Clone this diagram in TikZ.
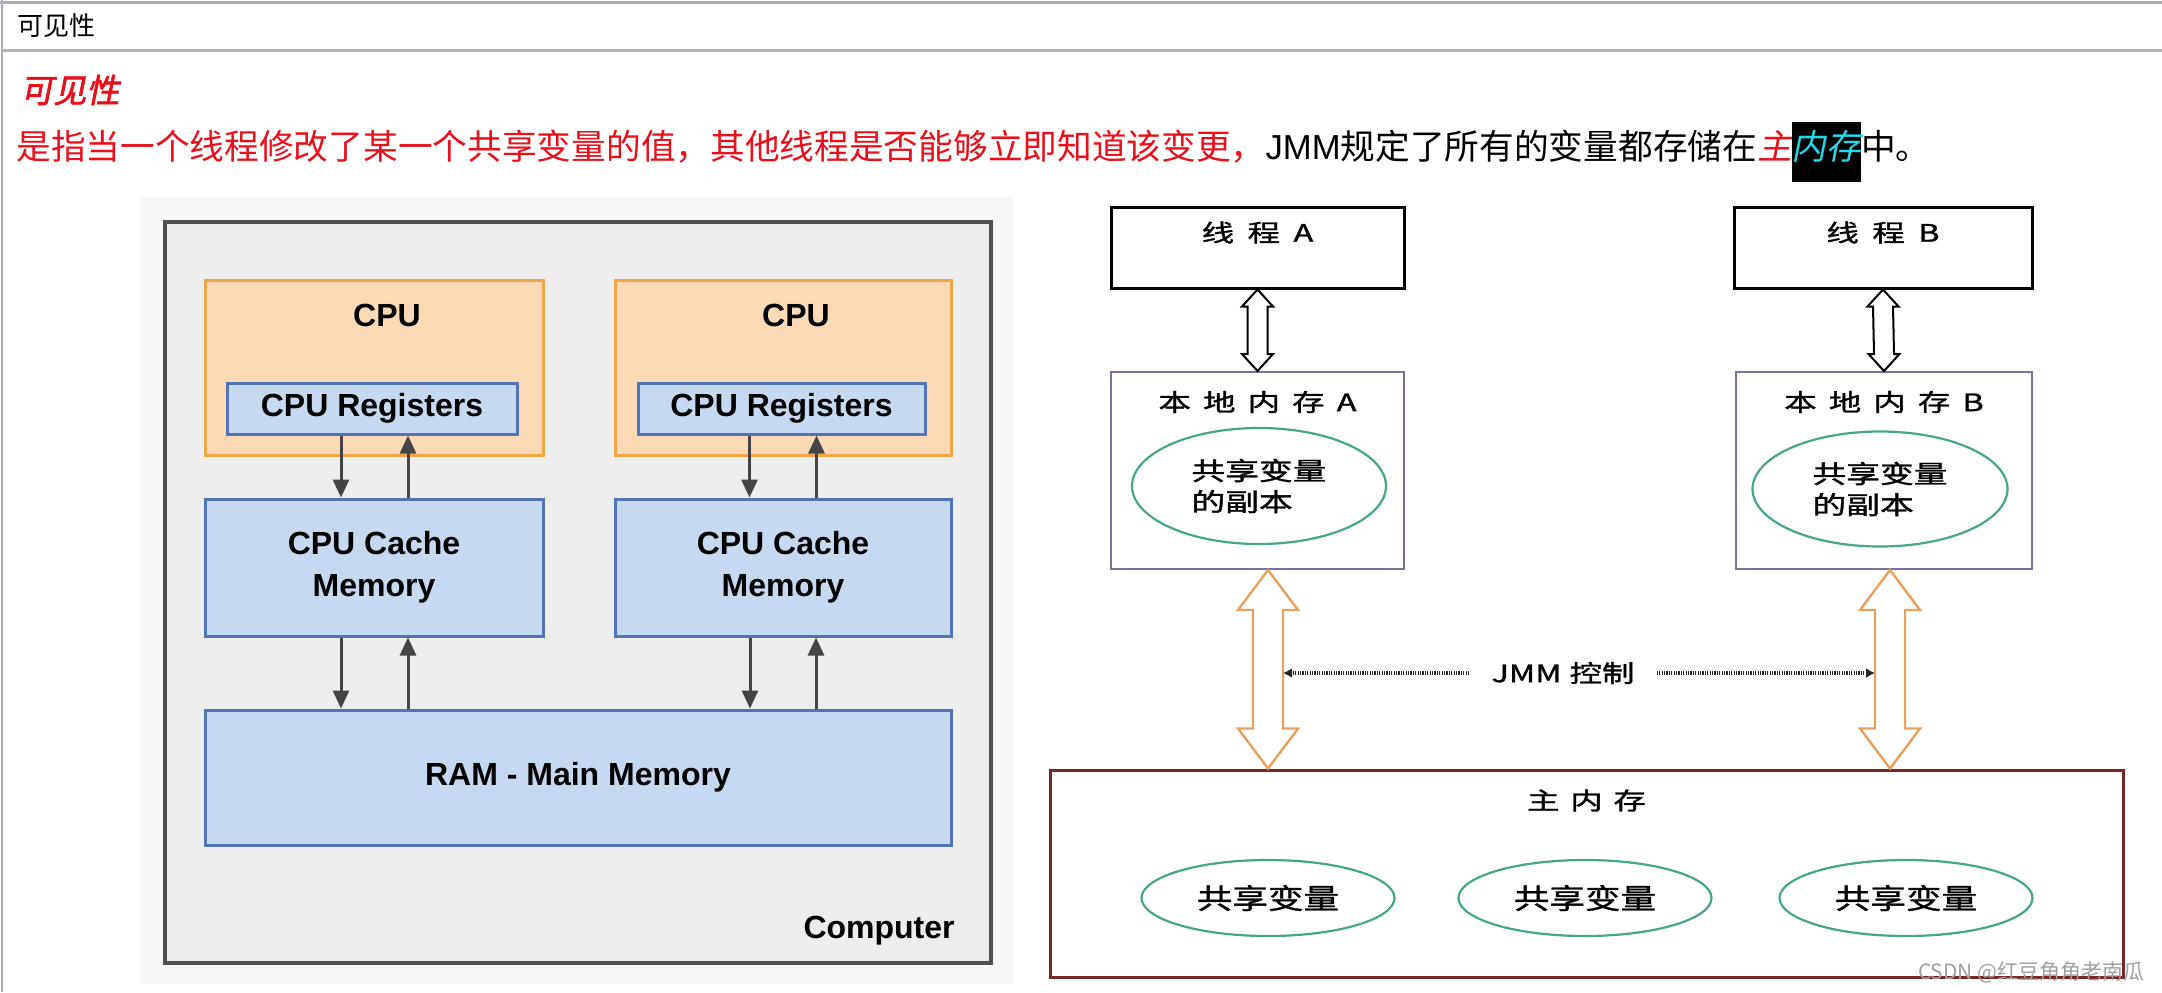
\documentclass[tikz,border=0pt]{standalone}
\usepackage{fontspec}
\setmainfont{Liberation Sans}
\newfontfamily\cjk{Noto Sans CJK SC}
\newfontfamily\cjkb[FakeBold=1.2]{Noto Sans CJK SC}
\newfontfamily\cjkit[FakeSlant=0.2]{Noto Sans CJK SC}
\newfontfamily\cjkbit[FakeSlant=0.2,FakeBold=2]{Noto Sans CJK SC}
\usetikzlibrary{arrows.meta,shapes.geometric,calc}
\definecolor{cpuFill}{HTML}{FDD9B6}
\definecolor{cpuLine}{HTML}{F0A648}
\definecolor{memFill}{HTML}{C7D9F1}
\definecolor{memLine}{HTML}{5473B5}
\definecolor{compFill}{HTML}{EDEDED}
\definecolor{compLine}{HTML}{505050}
\definecolor{bgGray}{HTML}{F7F7F8}
\definecolor{arrGray}{HTML}{444444}
\definecolor{ellLine}{HTML}{48A58A}
\definecolor{localLine}{HTML}{7D6E9C}
\definecolor{mainLine}{HTML}{7A2626}
\definecolor{orangeArr}{HTML}{E8A060}
\definecolor{frameLine}{HTML}{A8ADB8}
\definecolor{titleRed}{HTML}{E8101A}
\definecolor{cyanT}{HTML}{22D8EA}
\newcommand\wx[1]{\scalebox{1.35}[1]{#1}}
\newcommand\wy[1]{\scalebox{1.27}[1]{#1}}
% #1 style, #2 top point, #3 bottom point, #4 half shaft, #5 half head, #6 head length
\newcommand\hollowarr[6]{%
  \draw[#1] (#2) -- ([shift={(#5,#6)}]#2) -- ([shift={(#4,#6)}]#2)
    -- ([shift={(#4,-#6)}]#3) -- ([shift={(#5,-#6)}]#3) -- (#3)
    -- ([shift={(-#5,-#6)}]#3) -- ([shift={(-#4,-#6)}]#3)
    -- ([shift={(-#4,#6)}]#2) -- ([shift={(-#5,#6)}]#2) -- cycle;}
\tikzset{
  box/.style={draw, inner sep=0, line width=1.5pt},
  cpubox/.style={box, fill=cpuFill, draw=cpuLine},
  membox/.style={box, fill=memFill, draw=memLine},
  lbl/.style={font=\bfseries\fontsize{16pt}{21pt}\selectfont, inner sep=0, align=center},
  darr/.style={draw=arrGray, line width=1.5pt, -{Triangle[length=9pt,width=8pt]}},
  tbox/.style={draw=black, line width=1.5pt, fill=white, inner sep=0},
  lbox/.style={draw=localLine, line width=1pt, fill=white, inner sep=0},
  ell/.style={ellipse, draw=ellLine, line width=1.1pt, fill=white, inner sep=0},
  cjklbl/.style={font=\cjkb\fontsize{12pt}{15.5pt}\selectfont, inner sep=0},
  dotarr/.style={draw=black!85, line width=1.6pt, dash pattern=on 0.6pt off 0.6pt, -{Latex[length=4.5pt,width=5pt]}},
}
\begin{document}
\begin{tikzpicture}[x=0.5pt,y=-0.5pt]
\useasboundingbox[fill=white] (0,0) rectangle (2162,992);
% page frame
\draw[frameLine, line width=1.5pt] (0,2) -- (2162,2);
\draw[gray!65, line width=1.2pt] (2,0) -- (2,992);
\draw[gray!60, line width=1.5pt] (2,50) -- (2162,50);
\node[anchor=west, font=\cjk\fontsize{13pt}{15pt}\selectfont, inner sep=0] (hdr) at (17,26) {可见性};
\node[anchor=west, font=\cjkbit\fontsize{16.5pt}{19pt}\selectfont, text=titleRed, inner sep=0] (ttl) at (20,90) {可见性};
\node[anchor=west, inner sep=0, font=\fontsize{17.35pt}{20pt}\selectfont] (sent) at (16,152)
  {{\cjk\color{titleRed}是指当一个线程修改了某一个共享变量的值，其他线程是否能够立即知道该变更，}JMM{\cjk 规定了所有的变量都存储在}{\cjkit\color{titleRed}主}{\setlength\fboxsep{0pt}\colorbox{black}{\rule[-11.5pt]{0pt}{30pt}\cjkit\color{cyanT}内存}}{\cjk 中。}};

% ---------- left diagram ----------
\fill[bgGray] (140,197) rectangle (1013,984);
\node[box, fill=compFill, draw=compLine, line width=2pt, minimum width=413pt, minimum height=370.5pt] (comp) at (578,592.5) {};
\node[cpubox, minimum width=169pt, minimum height=87.5pt] (cpuA) at (374,367.5) {};
\node[cpubox, minimum width=168pt, minimum height=87.5pt] (cpuB) at (783,367.5) {};
\node[lbl] (cpuAt) at (387,315) {CPU};
\node[lbl] (cpuBt) at (796,315) {CPU};
\node[membox, lbl, minimum width=145pt, minimum height=25.5pt] (regA) at (372,408.5) {CPU Registers};
\node[membox, lbl, minimum width=143.5pt, minimum height=25.5pt] (regB) at (781.5,408.5) {CPU Registers};
\node[membox, lbl, minimum width=169pt, minimum height=68.5pt] (cacheA) at (374,567.5) {CPU Cache\\Memory};
\node[membox, lbl, minimum width=168pt, minimum height=68.5pt] (cacheB) at (783,567.5) {CPU Cache\\Memory};
\node[membox, lbl, minimum width=373pt, minimum height=67.5pt] (ram) at (578,777.5) {RAM - Main Memory};
\node[lbl, anchor=east] (compt) at (955,931) {Computer};
% arrows
\draw[darr] ([xshift=-15.5pt]regA.south) -- ([xshift=-15.5pt]regA.south |- cacheA.north);
\draw[darr] ([xshift=18pt]regA.south |- cacheA.north) -- ([xshift=18pt]regA.south);
\draw[darr] ([xshift=-16pt]regB.south) -- ([xshift=-16pt]regB.south |- cacheB.north);
\draw[darr] ([xshift=17.5pt]regB.south |- cacheB.north) -- ([xshift=17.5pt]regB.south);
\draw[darr] ([xshift=-16.5pt]cacheA.south) -- ([xshift=-16.5pt]cacheA.south |- ram.north);
\draw[darr] ([xshift=17pt]cacheA.south |- ram.north) -- ([xshift=17pt]cacheA.south);
\draw[darr] ([xshift=-16.5pt]cacheB.south) -- ([xshift=-16.5pt]cacheB.south |- ram.north);
\draw[darr] ([xshift=16.5pt]cacheB.south |- ram.north) -- ([xshift=16.5pt]cacheB.south);

% ---------- right diagram ----------
\node[tbox, minimum width=146.5pt, minimum height=40.5pt,
  label={[cjklbl, anchor=center, yshift=-13.5pt]north:\wx{线\hspace{5pt}程\hspace{5pt}A}}] (tA) at (1257.5,247.5) {};
\node[tbox, minimum width=149pt, minimum height=40.5pt,
  label={[cjklbl, anchor=center, yshift=-13.5pt]north:\wx{线\hspace{5pt}程\hspace{5pt}B}}] (tB) at (1883,247.5) {};
\node[lbox, minimum width=146.5pt, minimum height=98.5pt,
  label={[cjklbl, anchor=center, yshift=-15.5pt]north:\wx{本\hspace{4.5pt}地\hspace{4.5pt}内\hspace{4.5pt}存\hspace{4.5pt}A}}] (lA) at (1257.5,470.5) {};
\node[lbox, minimum width=148pt, minimum height=98.5pt,
  label={[cjklbl, anchor=center, yshift=-15.5pt]north:\wx{本\hspace{4.5pt}地\hspace{4.5pt}内\hspace{4.5pt}存\hspace{4.5pt}B}}] (lB) at (1884,470.5) {};
\node[ell, cjklbl, font=\cjkb\fontsize{12.5pt}{15.5pt}\selectfont, align=left, minimum width=127pt, minimum height=58pt] (eA) at (1259,486) {\wx{共享变量}\\\wx{的副本}};
\node[ell, cjklbl, font=\cjkb\fontsize{12.5pt}{15.5pt}\selectfont, align=left, minimum width=127.5pt, minimum height=57.5pt] (eB) at (1880,489) {\wx{共享变量}\\\wx{的副本}};
\hollowarr{draw=black, line width=1pt, fill=white}{tA.south}{lA.north}{10}{15.5}{17}
\hollowarr{draw=black, line width=1pt, fill=white}{tB.south}{lB.north}{10}{15.5}{17}

\node[box, draw=mainLine, fill=white, minimum width=536.5pt, minimum height=103.5pt,
  label={[cjklbl, anchor=center, yshift=-16pt]north:\wx{主\hspace{4pt}内\hspace{4pt}存}}] (mm) at (1586.5,873.5) {};
\node[ell, cjklbl, font=\cjkb\fontsize{14pt}{16pt}\selectfont, minimum width=126.5pt, minimum height=38pt] (v1) at (1268,898) {\wy{共享变量}};
\node[ell, cjklbl, font=\cjkb\fontsize{14pt}{16pt}\selectfont, minimum width=126.5pt, minimum height=38pt] (v2) at (1585,898) {\wy{共享变量}};
\node[ell, cjklbl, font=\cjkb\fontsize{14pt}{16pt}\selectfont, minimum width=126.5pt, minimum height=38pt] (v3) at (1906,898) {\wy{共享变量}};

\coordinate (oA1) at ([xshift=5.25pt]lA.south);
\coordinate (oA2) at (oA1 |- mm.north);
\coordinate (oB1) at ([xshift=3pt]lB.south);
\coordinate (oB2) at (oB1 |- mm.north);
\hollowarr{draw=orangeArr, line width=1.2pt, fill=white}{oA1}{oA2}{15}{30}{40}
\hollowarr{draw=orangeArr, line width=1.2pt, fill=white}{oB1}{oB2}{15}{30}{40}
\coordinate (sA) at ([xshift=7.5pt]oA1);
\coordinate (sB) at ([xshift=-7.5pt]oB1);
\node[cjklbl, inner xsep=11pt] (jmm) at (1563,673) {\wx{JMM\hspace{3pt}控制}};
\draw[dotarr] (jmm.west) -- (jmm.west -| sA);
\draw[dotarr] (jmm.east) -- (jmm.east -| sB);

\node[font=\cjk\fontsize{10.5pt}{12pt}\selectfont, text=gray!75, inner sep=0, anchor=east] (wm) at (2145,972) {CSDN @红豆角角老南瓜};
\end{tikzpicture}
\end{document}
